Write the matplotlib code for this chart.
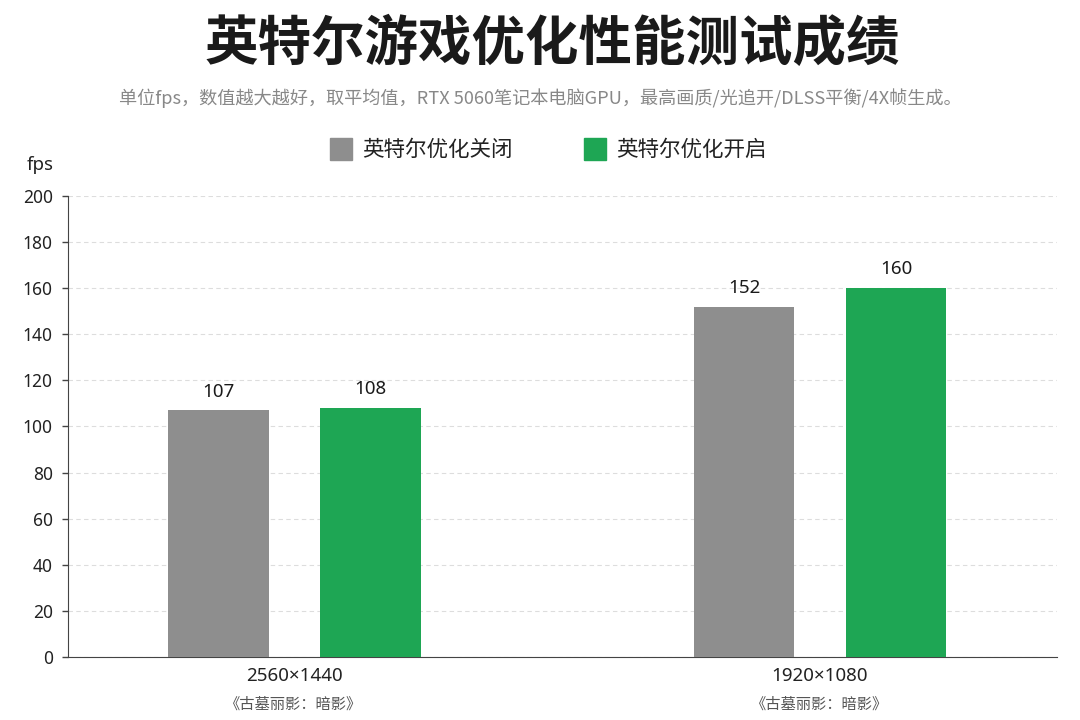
import matplotlib
matplotlib.use("Agg")
import matplotlib.pyplot as plt
import numpy as np
from matplotlib.patches import Rectangle

plt.rcParams['font.family'] = ['Noto Sans CJK SC', 'DejaVu Sans']
NUMFONT = ['Noto Sans', 'Noto Sans CJK SC', 'DejaVu Sans']

categories = ["2560×1440", "1920×1080"]
games = ["《古墓丽影：暗影》", "《古墓丽影：暗影》"]
series_names = ["英特尔优化关闭", "英特尔优化开启"]
off_values = [107, 152]
on_values = [108, 160]
yticks = [0, 20, 40, 60, 80, 100, 120, 140, 160, 180, 200]

title = "英特尔游戏优化性能测试成绩"
subtitle = "单位fps，数值越大越好，取平均值，RTX 5060笔记本电脑GPU，最高画质/光追开/DLSS平衡/4X帧生成。"

gray = "#8e8e8e"
green = "#1ea654"

fig = plt.figure(figsize=(10.8, 7.2), dpi=100)
ax = fig.add_axes([0.063, 0.0875, 0.9157, 0.6403])

x = np.arange(len(categories))
w = 0.192
off = 0.1445
b1 = ax.bar(x - off, off_values, w, color=gray, zorder=3)
b2 = ax.bar(x + off, on_values, w, color=green, zorder=3)

for bars, vals in ((b1, off_values), (b2, on_values)):
    for r, v in zip(bars, vals):
        ax.annotate(str(v), (r.get_x() + r.get_width() / 2, v), xytext=(0, 7),
                    textcoords="offset points", ha="center", va="bottom",
                    fontsize=13.5, color="#1a1a1a", family=NUMFONT)

ax.set_xlim(-0.4297, 1.4506)
ax.set_ylim(0, 200)
ax.set_yticks(yticks)
ax.set_yticklabels([str(t) for t in yticks], family=NUMFONT)
ax.tick_params(axis='y', labelsize=12.5, labelcolor="#222222", length=4, width=1,
               color="#444444", pad=7)
ax.tick_params(axis='x', length=0)
ax.set_xticks(x)
ax.set_xticklabels([])
for xi, c, g in zip(x, categories, games):
    ax.annotate(c, (xi, 0), xytext=(0, -7), textcoords="offset points",
                ha="center", va="top", fontsize=13.5, color="#222222",
                family=NUMFONT, annotation_clip=False)
    ax.annotate(g, (xi, 0), xytext=(0, -28), textcoords="offset points",
                ha="center", va="top", fontsize=11, color="#555555",
                annotation_clip=False)

ax.grid(axis='y', linestyle=(0, (4, 3)), color="#dddddd", linewidth=0.8, zorder=0)
for s in ("top", "right"):
    ax.spines[s].set_visible(False)
ax.spines["left"].set_color("#444444")
ax.spines["bottom"].set_color("#444444")

fig.text(0.0370, 0.771, "fps", fontsize=13.5, color="#222222", ha="center", va="center",
         family=NUMFONT)

fig.text(0.511, 0.938, title, fontsize=38.5, fontweight="black", color="#1a1a1a",
         ha="center", va="center")
fig.text(0.500, 0.864, subtitle, fontsize=13.1, color="#888888", ha="center", va="center")

# legend
sq = 22 / 1080
for xs, col, name in ((330, gray, series_names[0]), (584, green, series_names[1])):
    fig.patches.append(Rectangle((xs / 1080, 1 - 160 / 720), sq, 22 / 720,
                                 transform=fig.transFigure, color=col))
    fig.text((xs + 32) / 1080, 1 - 150 / 720, name, fontsize=15.5, color="#222222",
             ha="left", va="center")

fig.savefig("out.png", dpi=100, facecolor="white")
